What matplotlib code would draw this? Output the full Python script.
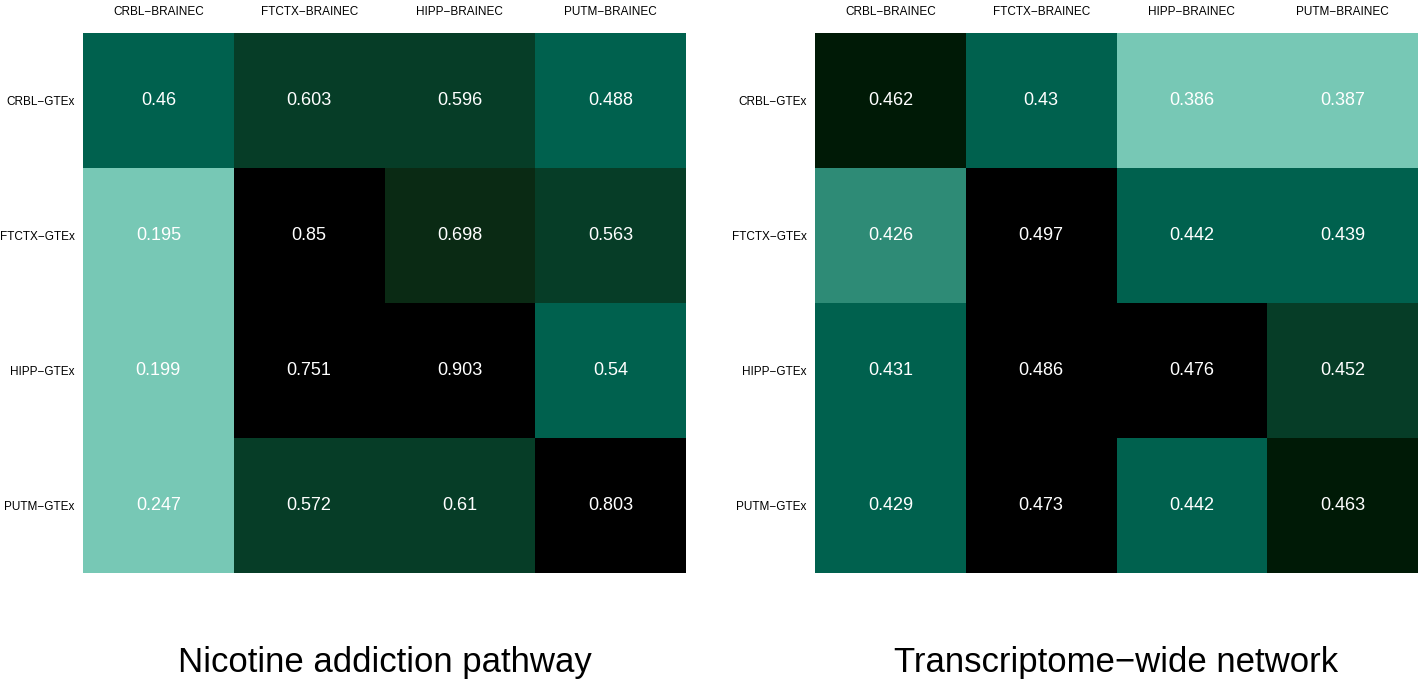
import matplotlib
matplotlib.use("Agg")
import matplotlib.pyplot as plt
import numpy as np
from matplotlib.colors import ListedColormap, BoundaryNorm

plt.rcParams['font.family'] = ['Liberation Sans', 'DejaVu Sans']

col_labels = ["CRBL\u2212BRAINEC", "FTCTX\u2212BRAINEC", "HIPP\u2212BRAINEC", "PUTM\u2212BRAINEC"]
row_labels = ["CRBL\u2212GTEx", "FTCTX\u2212GTEx", "HIPP\u2212GTEx", "PUTM\u2212GTEx"]

nicotine_values = [
    [0.46, 0.603, 0.596, 0.488],
    [0.195, 0.85, 0.698, 0.563],
    [0.199, 0.751, 0.903, 0.54],
    [0.247, 0.572, 0.61, 0.803],
]
transcriptome_values = [
    [0.462, 0.43, 0.386, 0.387],
    [0.426, 0.497, 0.442, 0.439],
    [0.431, 0.486, 0.476, 0.452],
    [0.429, 0.473, 0.442, 0.463],
]
titles = ["Nicotine addiction pathway", "Transcriptome\u2212wide network"]

# colour bins (as rendered in the reference)
left_bounds = [0.0, 0.3, 0.55, 0.65, 0.7, 1.0]
left_colors = ["#77C8B5", "#00614E", "#063D27", "#0A2A14", "#000000"]
right_bounds = [0.0, 0.4, 0.428, 0.45, 0.46, 0.47, 1.0]
right_colors = ["#77C8B5", "#2E8B76", "#00614E", "#063D27", "#001A06", "#000000"]

W, H = 1418, 681
fig = plt.figure(figsize=(W / 100, H / 100), dpi=100)

panels = [
    (nicotine_values, left_bounds, left_colors, 83),
    (transcriptome_values, right_bounds, right_colors, 815),
]
for (vals, bounds, colors, x0), title in zip(panels, titles):
    ax = fig.add_axes([x0 / W, 1 - 573 / H, 603 / W, 540 / H])
    data = np.array(vals)
    cmap = ListedColormap(colors)
    norm = BoundaryNorm(bounds, cmap.N)
    ax.pcolormesh(data, cmap=cmap, norm=norm)
    ax.set_xlim(0, 4)
    ax.set_ylim(4, 0)
    for i in range(4):
        for j in range(4):
            v = data[i, j]
            ax.text(j + 0.5, i + 0.5, f"{v:g}", ha="center", va="center",
                    color="white", fontsize=13)
    for s in ax.spines.values():
        s.set_visible(False)
    ax.set_xticks(np.arange(4) + 0.5)
    ax.set_xticklabels(col_labels, fontsize=8.5)
    ax.xaxis.tick_top()
    ax.tick_params(axis="x", length=0, pad=11)
    ax.set_yticks(np.arange(4) + 0.5)
    ax.set_yticklabels(row_labels, fontsize=8.5)
    ax.tick_params(axis="y", length=0, pad=6)
    ax.text(0.5, -0.165, title, transform=ax.transAxes, ha="center", va="center",
            fontsize=25)

fig.savefig("out.png", dpi=100)
